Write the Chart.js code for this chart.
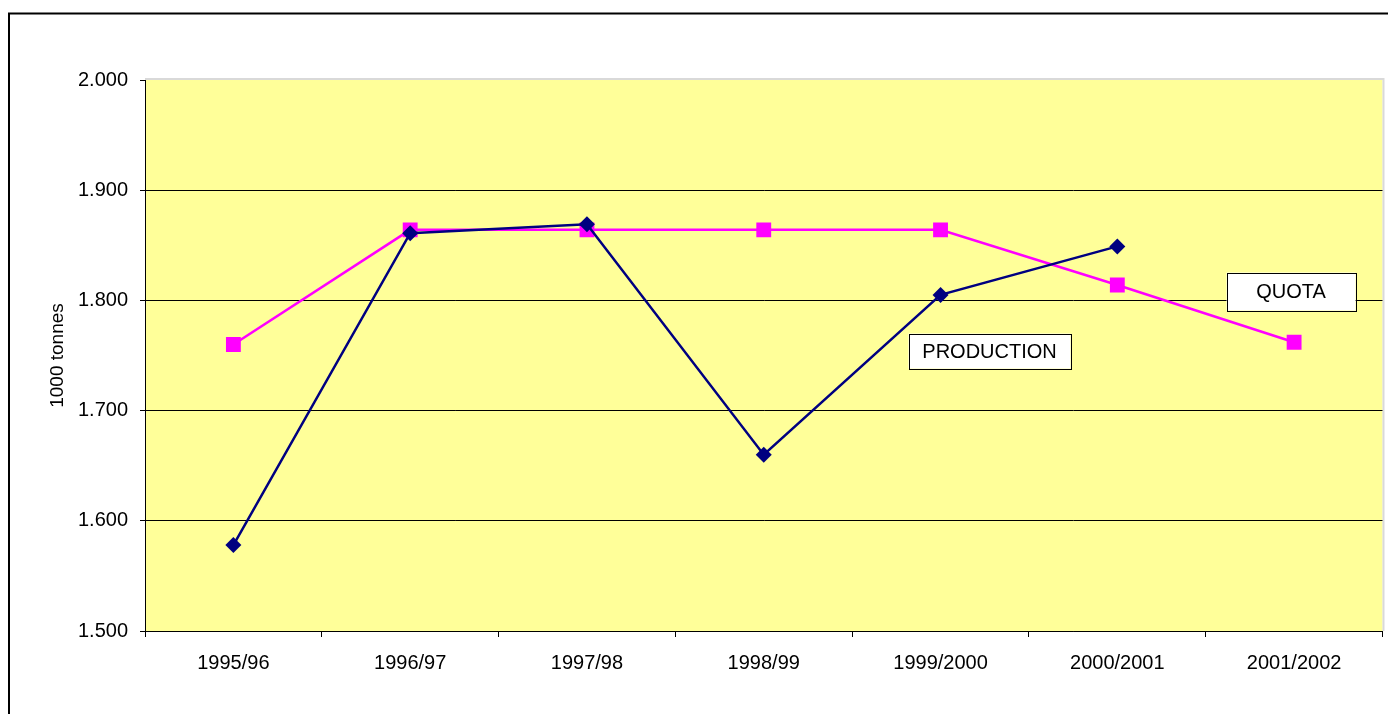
<!DOCTYPE html>
<html>
<head>
<meta charset="utf-8">
<script src="https://cdn.jsdelivr.net/npm/chart.js@4.4.1/dist/chart.umd.min.js"></script>
<style>
  html, body { margin: 0; padding: 0; background: #ffffff; overflow: hidden; }
  #wrap { position: relative; width: 1388px; height: 714px; overflow: hidden; }
  #inner { position: absolute; left: 0; top: 0; width: 1393px; height: 714px; }
</style>
</head>
<body>
<div id="wrap"><div id="inner"><canvas id="c"></canvas></div></div>
<script>
const categories = ['1995/96', '1996/97', '1997/98', '1998/99', '1999/2000', '2000/2001', '2001/2002'];
const production = [1578, 1861, 1869, 1660, 1805, 1849, null];
const quota = [1760, 1864, 1864, 1864, 1864, 1814, 1762];
const yTitle = '1000 tonnes';
const yMin = 1500, yMax = 2000, yStep = 100;
const labelProduction = 'PRODUCTION';
const labelQuota = 'QUOTA';

function fmt(v) {
  const t = Math.floor(v / 1000);
  const r = String(Math.round(v % 1000)).padStart(3, '0');
  return t + '.' + r;
}

const FONT = '"Liberation Sans", Arial, sans-serif';

const frame = {
  id: 'frame',
  beforeDraw(chart) {
    const ctx = chart.ctx;
    const a = chart.chartArea;
    ctx.save();
    ctx.strokeStyle = '#000';
    ctx.lineWidth = 2;
    ctx.strokeRect(9, 13.5, 1400, 720);
    ctx.fillStyle = '#FFFF99';
    ctx.fillRect(a.left, a.top, a.right - a.left, a.bottom - a.top);
    ctx.strokeStyle = '#D9D9D9';
    ctx.lineWidth = 2;
    ctx.beginPath();
    ctx.moveTo(a.left, a.top - 1);
    ctx.lineTo(a.right + 1, a.top - 1);
    ctx.lineTo(a.right + 1, a.bottom);
    ctx.stroke();
    ctx.restore();
  },
  afterDatasetsDraw(chart) {
    const ctx = chart.ctx;
    const x = chart.scales.x, y = chart.scales.y;
    ctx.save();
    ctx.font = '20px ' + FONT;
    ctx.textBaseline = 'middle';
    ctx.textAlign = 'center';
    function box(text, cx, cy, w, h) {
      ctx.fillStyle = '#fff';
      ctx.fillRect(cx - w / 2, cy - h / 2, w, h);
      ctx.strokeStyle = '#000';
      ctx.lineWidth = 1;
      ctx.strokeRect(Math.round(cx - w / 2) + 0.5, Math.round(cy - h / 2) + 0.5, w, h);
      ctx.fillStyle = '#000';
      ctx.fillText(text, cx, cy + 1);
    }
    box(labelProduction, x.getPixelForValue(4) + 49, y.getPixelForValue(1754), 162, 35);
    box(labelQuota, x.getPixelForValue(6) - 3, y.getPixelForValue(1808), 129, 38);
    ctx.restore();
  }
};

new Chart(document.getElementById('c'), {
  type: 'line',
  data: {
    labels: categories,
    datasets: [
      {
        label: 'QUOTA',
        data: quota,
        borderColor: '#FF00FF',
        backgroundColor: '#FF00FF',
        borderWidth: 2.5,
        pointStyle: 'rect',
        pointRadius: 10.5,
        pointHoverRadius: 10.5,
        pointBorderWidth: 0,
        tension: 0,
        order: 2
      },
      {
        label: 'PRODUCTION',
        data: production,
        borderColor: '#000080',
        backgroundColor: '#000080',
        borderWidth: 2.5,
        pointStyle: 'rectRot',
        pointRadius: 8,
        pointHoverRadius: 8,
        pointBorderWidth: 0,
        tension: 0,
        spanGaps: false,
        order: 1
      }
    ]
  },
  options: {
    responsive: true,
    maintainAspectRatio: false,
    animation: false,
    devicePixelRatio: 1,
    layout: { padding: { top: 80, right: 0, bottom: 0, left: 42 } },
    plugins: {
      legend: { display: false },
      tooltip: { enabled: false },
      title: { display: false }
    },
    scales: {
      x: {
        type: 'category',
        offset: true,
        grid: {
          offset: true,
          drawOnChartArea: false,
          drawTicks: true,
          tickLength: 6,
          color: '#000',
          tickColor: '#000'
        },
        border: { display: true, color: '#000', width: 1 },
        ticks: {
          color: '#000',
          font: { family: FONT, size: 20 },
          padding: 14,
          maxRotation: 0,
          autoSkip: false
        },
        afterFit(s) { s.height = 83; }
      },
      y: {
        min: yMin,
        max: yMax,
        grid: {
          color: (c) => (c.tick && c.tick.value === yMax) ? 'rgba(0,0,0,0)' : '#000',
          tickColor: '#000',
          tickLength: 5,
          lineWidth: 1
        },
        border: { display: true, color: '#000', width: 1 },
        ticks: {
          stepSize: yStep,
          color: '#000',
          font: { family: FONT, size: 20 },
          padding: 12,
          callback: (v) => fmt(v)
        },
        title: {
          display: true,
          text: yTitle,
          color: '#000',
          font: { family: FONT, size: 19 },
          padding: { top: 4, bottom: 4 }
        },
        afterFit(s) { s.width = 103; }
      }
    }
  },
  plugins: [frame]
});
</script>
</body>
</html>
